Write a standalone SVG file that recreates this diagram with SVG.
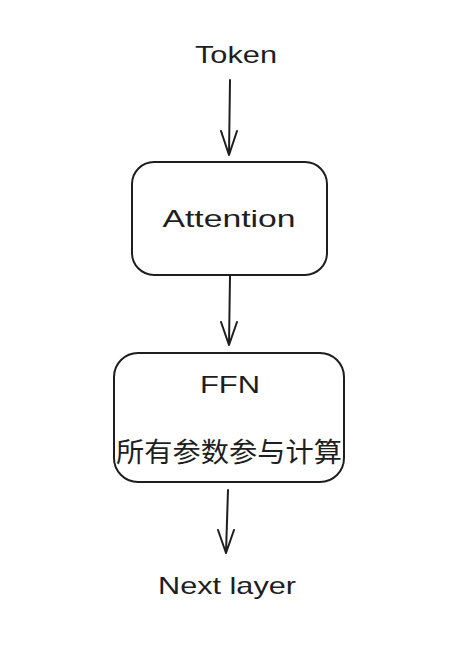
<svg xmlns="http://www.w3.org/2000/svg" width="470" height="658" viewBox="0 0 470 658">
<style>
.bg{fill:#ffffff}
.box{fill:#ffffff;stroke:#1e1e1e;stroke-width:2}
.edge{fill:none;stroke:#1e1e1e;stroke-width:2;stroke-linecap:round;stroke-linejoin:round}
.lbl{font-family:"Liberation Sans","Noto Sans CJK SC",sans-serif;font-size:24px;fill:#1e1e1e;text-anchor:middle}
.cjk{font-family:"Noto Sans CJK SC","Liberation Sans",sans-serif;font-size:27px;fill:#1e1e1e;text-anchor:middle}
</style>
<rect class="bg" x="0" y="0" width="470" height="658"/>
<g id="token">
<text class="lbl" x="236" y="63" textLength="82" lengthAdjust="spacingAndGlyphs">Token</text>
</g>
<g id="attention">
<rect class="box" x="132" y="162" width="195" height="113" rx="22" ry="22"/>
<text class="lbl" x="229" y="227" textLength="133" lengthAdjust="spacingAndGlyphs">Attention</text>
</g>
<g id="ffn">
<rect class="box" x="114" y="353" width="230" height="129" rx="24" ry="24"/>
<text class="lbl" x="230" y="393" textLength="60" lengthAdjust="spacingAndGlyphs">FFN</text>
<text class="cjk" x="229" y="462" textLength="226" lengthAdjust="spacingAndGlyphs">所有参数参与计算</text>
</g>
<g id="next">
<text class="lbl" x="227" y="594" textLength="138" lengthAdjust="spacingAndGlyphs">Next layer</text>
</g>
<g id="connectors">
<path class="edge" d="M230 80 L229 155 M221 131 L229 155 L237 131"/>
<path class="edge" d="M230 276 L229 345 M221 322 L229 345 L237 322"/>
<path class="edge" d="M228 490 L226 553 M218 530 L226 553 L234 530"/>
</g>
</svg>
